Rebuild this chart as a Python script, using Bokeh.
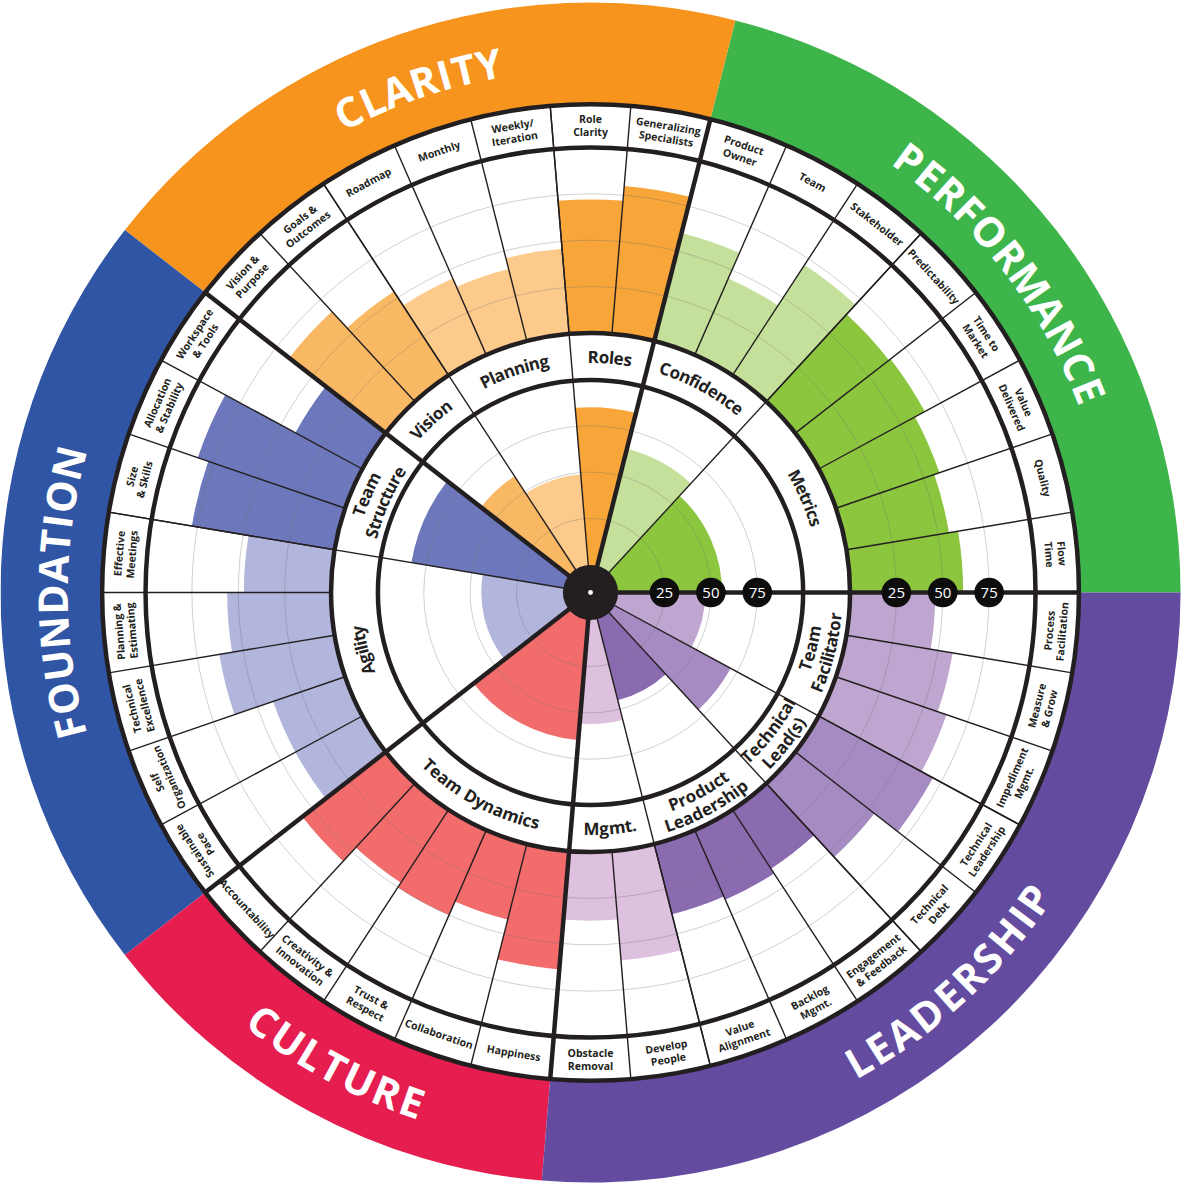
import math
from bokeh.plotting import figure
from bokeh.models import ColumnDataSource, Range1d
from bokeh.core.properties import value
from bokeh.embed import file_html
from bokeh.resources import INLINE

# ---------------- data (listed counter-clockwise, starting at 3 o'clock) ----------------
categories = ["PERFORMANCE", "CLARITY", "FOUNDATION", "CULTURE", "LEADERSHIP"]
category_colors = ["#3DB54A", "#F7941D", "#3155A5", "#E51E4F", "#634CA0"]

subcategories = ["Metrics", "Confidence", "Roles", "Planning", "Vision",
                 "Team Structure", "Agility", "Team Dynamics",
                 "Mgmt.", "Product Leadership", "Technical Lead(s)", "Team Facilitator"]
subcategory_category = ["PERFORMANCE", "PERFORMANCE", "CLARITY", "CLARITY", "CLARITY",
                        "FOUNDATION", "FOUNDATION", "CULTURE",
                        "LEADERSHIP", "LEADERSHIP", "LEADERSHIP", "LEADERSHIP"]
subcategory_labels = [["Metrics"], ["Confidence"], ["Roles"], ["Planning"], ["Vision"],
                      ["Team", "Structure"], ["Agility"], ["Team Dynamics"],
                      ["Mgmt."], ["Product", "Leadership"], ["Technical", "Lead(s)"],
                      ["Team", "Facilitator"]]
subcategory_scores = [56, 65, 85, 49, 60, 83, 44, 65, 56, 45, 71, 47]
subcategory_colors = ["#8CC63F", "#C5E09B", "#F8A53A", "#FCCB8B", "#F9B964",
                      "#6C78BB", "#B2B6DD", "#F26C6C",
                      "#DDC1DF", "#8B6BB0", "#A68BC3", "#BFA6D1"]

item_names = ["Flow Time", "Quality", "Value Delivered", "Time to Market", "Predictability",
              "Stakeholder", "Team", "Product Owner",
              "Generalizing Specialists", "Role Clarity",
              "Weekly/Iteration", "Monthly", "Roadmap",
              "Goals & Outcomes", "Vision & Purpose",
              "Workspace & Tools", "Allocation & Stability", "Size & Skills",
              "Effective Meetings", "Planning & Estimating", "Technical Excellence",
              "Self Organization", "Sustainable Pace",
              "Accountability", "Creativity & Innovation", "Trust & Respect",
              "Collaboration", "Happiness",
              "Obstacle Removal", "Develop People",
              "Value Alignment", "Backlog Mgmt.", "Engagement & Feedback",
              "Technical Debt", "Technical Leadership",
              "Impediment Mgmt.", "Measure & Grow", "Process Facilitation"]
item_label_lines = [["Flow", "Time"], ["Quality"], ["Value", "Delivered"], ["Time to", "Market"],
                    ["Predictability"], ["Stakeholder"], ["Team"], ["Product", "Owner"],
                    ["Generalizing", "Specialists"], ["Role", "Clarity"],
                    ["Weekly/", "Iteration"], ["Monthly"], ["Roadmap"],
                    ["Goals &", "Outcomes"], ["Vision &", "Purpose"],
                    ["Workspace", "& Tools"], ["Allocation", "& Stability"], ["Size", "& Skills"],
                    ["Effective", "Meetings"], ["Planning &", "Estimating"], ["Technical", "Excellence"],
                    ["Self", "Organization"], ["Sustainable", "Pace"],
                    ["Accountability"], ["Creativity &", "Innovation"], ["Trust &", "Respect"],
                    ["Collaboration"], ["Happiness"],
                    ["Obstacle", "Removal"], ["Develop", "People"],
                    ["Value", "Alignment"], ["Backlog", "Mgmt."], ["Engagement", "& Feedback"],
                    ["Technical", "Debt"], ["Technical", "Leadership"],
                    ["Impediment", "Mgmt."], ["Measure", "& Grow"], ["Process", "Facilitation"]]
item_subcategory = (["Metrics"] * 5 + ["Confidence"] * 3 + ["Roles"] * 2 + ["Planning"] * 3 +
                    ["Vision"] * 2 + ["Team Structure"] * 3 + ["Agility"] * 5 +
                    ["Team Dynamics"] * 5 + ["Mgmt."] * 2 + ["Product Leadership"] * 3 +
                    ["Technical Lead(s)"] * 2 + ["Team Facilitator"] * 3)
item_scores = [61, 56, 59, 65, 64,
               71, 45, 60,
               80, 72,
               46, 40, 45,
               54, 66,
               41, 84, 78,
               47, 56, 63, 41, 41,
               57, 47, 50, 42, 64,
               37, 59,
               39, 41, 38,
               54, 70,
               63, 58, 46]
scale_ticks = [25, 50, 75]

# ---------------- geometry ----------------
INK = "#231F20"
R_HUB = 28
R_MID_IN = 215.5
R_MID_OUT = 263
R_LAB_IN = 451
R_LAB_OUT = 495
R_RIM = 598
UNIT = 1.88
BOTTOM_CATS = ("CULTURE", "LEADERSHIP")


def r_inner(v):
    return R_HUB + UNIT * v


def r_outer(v):
    return R_MID_OUT + UNIT * v


n_items = len(item_names)
step = 2 * math.pi / n_items
item_start = [i * step for i in range(n_items)]
item_end = [(i + 1) * step for i in range(n_items)]
item_mid = [(i + 0.5) * step for i in range(n_items)]
item_category = [subcategory_category[subcategories.index(s)] for s in item_subcategory]
item_colors = [subcategory_colors[subcategories.index(s)] for s in item_subcategory]

sub_start, sub_end = [], []
for s in subcategories:
    idx = [i for i, v in enumerate(item_subcategory) if v == s]
    sub_start.append(min(idx) * step)
    sub_end.append((max(idx) + 1) * step)
cat_start, cat_end = [], []
for c in categories:
    idx = [i for i, v in enumerate(item_category) if v == c]
    cat_start.append(min(idx) * step)
    cat_end.append((max(idx) + 1) * step)

# approximate Open Sans advance widths (em)
CW = {' ': .26, 'a': .556, 'b': .613, 'c': .476, 'd': .613, 'e': .561, 'f': .339, 'g': .548,
      'h': .614, 'i': .253, 'j': .253, 'k': .525, 'l': .253, 'm': .930, 'n': .614, 'o': .604,
      'p': .613, 'q': .613, 'r': .408, 's': .477, 't': .353, 'u': .614, 'v': .501, 'w': .778,
      'x': .524, 'y': .502, 'z': .477, 'A': .633, 'B': .647, 'C': .631, 'D': .719, 'E': .549,
      'F': .502, 'G': .715, 'H': .740, 'I': .303, 'L': .513, 'M': .863, 'N': .752, 'O': .779,
      'P': .598, 'R': .618, 'S': .541, 'T': .556, 'U': .712, 'V': .586, 'Y': .540, '.': .266,
      '(': .297, ')': .297, '&': .732, '/': .364}


def curved_chars(text, r, theta_mid, fs, kind, bold=True, tracking=0.0):
    f = 1.06 if bold else 1.0
    ws = [CW.get(ch, 0.55) * fs * f + tracking for ch in text]
    total = sum(ws) - tracking
    out = []
    pos = -total / 2
    for ch, w in zip(text, ws):
        c = pos + (w - tracking) / 2
        pos += w
        if ch == " ":
            continue
        if kind == "top":
            th = theta_mid - c / r
            ang = th - math.pi / 2
        else:
            th = theta_mid + c / r
            ang = th + math.pi / 2
        out.append((r * math.cos(th), r * math.sin(th), ch, ang))
    return out


def line_radii(n, r_mid, lh, kind):
    res = []
    for i in range(n):
        u = ((n - 1) / 2 - i) * lh
        res.append(r_mid + u if kind == "top" else r_mid - u)
    return res


# ---------------- figure ----------------
p = figure(width=1184, height=1184, x_range=Range1d(-598, 602), y_range=Range1d(-600, 600),
           output_backend="svg", toolbar_location=None, x_axis_location=None,
           y_axis_location=None, min_border=0, background_fill_color="white",
           border_fill_color="white", outline_line_color=None)
p.xgrid.visible = False
p.ygrid.visible = False

# outer coloured category band
p.annular_wedge(x=0, y=0, inner_radius=R_LAB_OUT - 1, outer_radius=R_RIM,
                start_angle=cat_start, end_angle=cat_end, fill_color=category_colors,
                line_color=None)

# outer bars (items)
outer_src = ColumnDataSource(dict(s=item_start, e=item_end,
                                  r=[r_outer(v) for v in item_scores], c=item_colors))
p.annular_wedge(x=0, y=0, inner_radius=R_MID_OUT, outer_radius="r", start_angle="s",
                end_angle="e", fill_color="c", line_color=None, source=outer_src)

# inner bars (sub-categories)
inner_src = ColumnDataSource(dict(s=sub_start, e=sub_end,
                                  r=[r_inner(v) for v in subcategory_scores],
                                  c=subcategory_colors))
p.wedge(x=0, y=0, radius="r", start_angle="s", end_angle="e", fill_color="c",
        line_color=None, source=inner_src)

# grid circles
grid_r = [r_inner(t) for t in scale_ticks] + [r_outer(t) for t in scale_ticks]
p.circle(x=[0] * len(grid_r), y=[0] * len(grid_r), radius=grid_r, fill_color=None,
         line_color="#6d6d6d", line_alpha=0.4, line_width=0.8)

# thin item separators
p.segment(x0=[R_MID_OUT * math.cos(a) for a in item_start],
          y0=[R_MID_OUT * math.sin(a) for a in item_start],
          x1=[R_LAB_OUT * math.cos(a) for a in item_start],
          y1=[R_LAB_OUT * math.sin(a) for a in item_start],
          line_color=INK, line_width=1.4)
# sub-category separators
p.segment(x0=[0] * len(sub_start), y0=[0] * len(sub_start),
          x1=[R_LAB_OUT * math.cos(a) for a in sub_start],
          y1=[R_LAB_OUT * math.sin(a) for a in sub_start],
          line_color=INK, line_width=1.4)
# category separators
p.segment(x0=[0] * len(cat_start), y0=[0] * len(cat_start),
          x1=[R_LAB_OUT * math.cos(a) for a in cat_start],
          y1=[R_LAB_OUT * math.sin(a) for a in cat_start],
          line_color=INK, line_width=4.5)

# ring borders
ring_r = [R_MID_IN, R_MID_OUT, R_LAB_IN, R_LAB_OUT]
p.circle(x=[0] * 4, y=[0] * 4, radius=ring_r, fill_color=None, line_color=INK, line_width=4.5)

# hub
p.circle(x=[0], y=[0], radius=R_HUB, fill_color=INK, line_color=None)
p.circle(x=[0], y=[0], radius=2.5, fill_color="white", line_color=None)

# scale markers
mk_x = [r_inner(t) for t in scale_ticks] + [r_outer(t) for t in scale_ticks]
mk_t = [str(t) for t in scale_ticks] * 2
p.circle(x=mk_x, y=[0] * len(mk_x), radius=15, fill_color="#0d0d0d", line_color=None)
p.text(x=mk_x, y=[0] * len(mk_x), text=mk_t, text_color="white", text_align="center",
       text_baseline="middle", text_font=value("Open Sans"), text_font_size=value("15px"))

# category names (curved)
cx, cy, ct, ca = [], [], [], []
for c, a0, a1 in zip(categories, cat_start, cat_end):
    kind = "bottom" if c in BOTTOM_CATS else "top"
    for x, y, ch, ang in curved_chars(c, 546, (a0 + a1) / 2, 40, kind, tracking=2.5):
        cx.append(x); cy.append(y); ct.append(ch); ca.append(ang)
p.text(x=cx, y=cy, text=ct, angle=ca, text_color="white", text_align="center",
       text_baseline="middle", text_font=value("Open Sans"), text_font_style="bold",
       text_font_size=value("41px"))

# sub-category labels (curved, middle ring)
mx, my, mt, ma = [], [], [], []
for lines, cat, a0, a1 in zip(subcategory_labels, subcategory_category, sub_start, sub_end):
    kind = "bottom" if cat in BOTTOM_CATS else "top"
    radii = line_radii(len(lines), (R_MID_IN + R_MID_OUT) / 2, 19, kind)
    for ln, rr in zip(lines, radii):
        for x, y, ch, ang in curved_chars(ln, rr, (a0 + a1) / 2, 17, kind):
            mx.append(x); my.append(y); mt.append(ch); ma.append(ang)
p.text(x=mx, y=my, text=mt, angle=ma, text_color=INK, text_align="center",
       text_baseline="middle", text_font=value("Open Sans"), text_font_style="bold",
       text_font_size=value("17px"))

# item labels (label ring)
lx, ly, lt, la = [], [], [], []
for lines, cat, th in zip(item_label_lines, item_category, item_mid):
    kind = "bottom" if cat in BOTTOM_CATS else "top"
    ang = th - math.pi / 2 if kind == "top" else th + math.pi / 2
    radii = line_radii(len(lines), (R_LAB_IN + R_LAB_OUT) / 2, 13, kind)
    for ln, rr in zip(lines, radii):
        lx.append(rr * math.cos(th)); ly.append(rr * math.sin(th)); lt.append(ln); la.append(ang)
p.text(x=lx, y=ly, text=lt, angle=la, text_color=INK, text_align="center",
       text_baseline="middle", text_font=value("Open Sans"), text_font_style="bold",
       text_font_size=value("10.5px"))

open("out.html", "w").write(file_html(p, INLINE))
